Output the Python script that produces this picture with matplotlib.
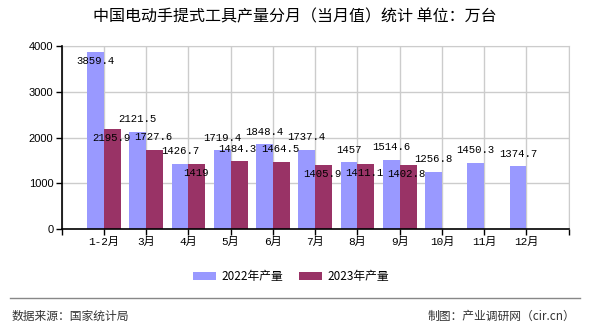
"""
中国电动手提式工具产量分月（当月值）统计
"""
import numpy as np
import matplotlib
matplotlib.use('Agg')
import matplotlib.pyplot as plt
from matplotlib.lines import Line2D
from matplotlib.patches import Patch

# 数据
months = ['1-2月', '3月', '4月', '5月', '6月', '7月', '8月', '9月', '10月', '11月', '12月']
output_2022 = [3859.4, 2121.5, 1426.7, 1719.4, 1848.4, 1737.4, 1457, 1514.6, 1256.8, 1450.3, 1374.7]
output_2023 = [2195.9, 1727.6, 1419, 1484.3, 1464.5, 1405.9, 1411.1, 1402.8]
# 2023 标签放在柱顶上方(True)还是下方(False)
above_2023 = [False, True, False, True, True, False, False, False]

c2022 = '#9999ff'
c2023 = '#993366'
cjk = ['Noto Sans CJK SC', 'DejaVu Sans']
mono = ['Liberation Mono', 'Noto Sans CJK SC']

plt.rcParams['font.family'] = cjk

fig = plt.figure(figsize=(5.9, 3.3), dpi=100)
ax = fig.add_axes([61.7 / 590, 1 - 229 / 330, 507 / 590, 183 / 330])

x = np.arange(len(months))
w = 0.4
ax.bar(x[:len(output_2022)] - w / 2, output_2022, width=w, color=c2022, zorder=2)
ax.bar(x[:len(output_2023)] + w / 2, output_2023, width=w, color=c2023, zorder=2)

ymax = 4000
ax.set_ylim(0, ymax)
ax.set_xlim(-1, len(months))

# 数值标签
for i, v in enumerate(output_2022):
    if v + 400 > ymax:
        dy = -6.5
    else:
        dy = 9
    ax.annotate(f'{v:g}', (x[i] - w / 2, v), xytext=(0, dy), textcoords='offset points',
                ha='center', va='center', fontsize=7.7, family=mono, zorder=5)
for i, v in enumerate(output_2023):
    dy = 9 if above_2023[i] else -6.5
    ax.annotate(f'{v:g}', (x[i] + w / 2, v), xytext=(-1, dy), textcoords='offset points',
                ha='center', va='center', fontsize=7.7, family=mono, zorder=5)

# 坐标轴
ticks = list(range(-1, len(months) + 1))
ax.set_xticks(ticks)
ax.set_xticklabels([''] + months + [''], fontsize=8, family=mono)
ax.set_yticks(range(0, ymax + 1, 1000))
ax.set_yticklabels([str(t) for t in range(0, ymax + 1, 1000)], fontsize=8, family=['Liberation Sans'])
ax.tick_params(axis='both', direction='out', length=4, width=1, color='black', pad=2)
ax.grid(True, color='#cccccc', lw=1, zorder=0)
for s in ['top', 'right']:
    ax.spines[s].set_color('#cccccc')
for s in ['left', 'bottom']:
    ax.spines[s].set_color('black')
    ax.spines[s].set_linewidth(1.2)
    ax.spines[s].set_zorder(3)

# 标题
fig.text(0.5, 1 - 17 / 330, '中国电动手提式工具产量分月（当月值）统计 单位：万台',
         ha='center', va='center', fontsize=11.5, color='black', fontweight='medium')

# 图例
handles = [Patch(facecolor=c2022, edgecolor='none'), Patch(facecolor=c2023, edgecolor='none')]
fig.legend(handles, ['2022年产量', '2023年产量'], loc='center', bbox_to_anchor=(291 / 590, 1 - 276.7 / 330),
           ncol=2, frameon=False, fontsize=8.5, handlelength=1.9, handleheight=0.7,
           handletextpad=0.45, columnspacing=1.4, borderpad=0)

# 底部
fig.add_artist(Line2D([10 / 590, 580 / 590], [1 - 298 / 330, 1 - 298 / 330], color='#888888', lw=1))
fig.text(12 / 590, 1 - 316.5 / 330, '数据来源：国家统计局', ha='left', va='center', fontsize=8.5, color='#333333')
fig.text(575 / 590, 1 - 316.5 / 330, '制图：产业调研网（cir.cn）', ha='right', va='center', fontsize=8.5, color='#333333')

fig.savefig('out.png', dpi=100)
